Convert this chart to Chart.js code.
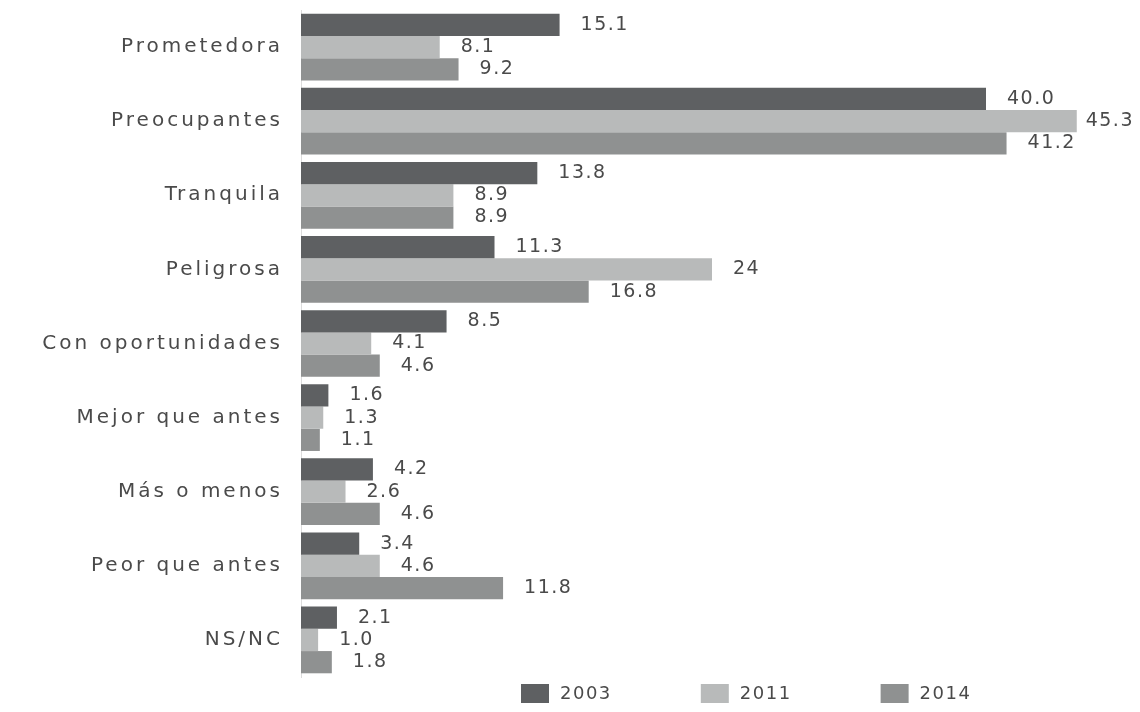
<!DOCTYPE html>
<html>
<head>
<meta charset="utf-8">
<script src="https://cdn.jsdelivr.net/npm/chart.js@4.4.1/dist/chart.umd.min.js"></script>
<style>
  html, body { margin: 0; padding: 0; background: #fff; }
  #wrap { width: 1140px; height: 712px; position: relative; }
</style>
</head>
<body>
<div id="wrap"><canvas id="chart" width="1140" height="712"></canvas></div>
<script>
// Percentages per answer and survey year (texts kept as printed)
const categories = ['Prometedora', 'Preocupantes', 'Tranquila', 'Peligrosa', 'Con oportunidades',
                    'Mejor que antes', 'Más o menos', 'Peor que antes', 'NS/NC'];
const years = ['2003', '2011', '2014'];
const values2003 = ['15.1', '40.0', '13.8', '11.3', '8.5', '1.6', '4.2', '3.4', '2.1'];
const values2011 = ['8.1', '45.3', '8.9', '24', '4.1', '1.3', '2.6', '4.6', '1.0'];
const values2014 = ['9.2', '41.2', '8.9', '16.8', '4.6', '1.1', '4.6', '11.8', '1.8'];

const seriesTexts = [values2003, values2011, values2014];
const barColors = ['#5e6062', '#b8baba', '#8f9191'];
const FONT = '"DejaVu Sans", sans-serif';
const TEXT_COLOR = '#4a4a4a';

// Value labels at the end of each bar, pulled back if they would run off the canvas
const valueLabels = {
  id: 'valueLabels',
  afterDatasetsDraw(chart) {
    const ctx = chart.ctx;
    ctx.save();
    ctx.font = '19px ' + FONT;
    ctx.letterSpacing = '1.5px';
    ctx.fillStyle = TEXT_COLOR;
    ctx.textAlign = 'left';
    ctx.textBaseline = 'middle';
    chart.data.datasets.forEach((ds, di) => {
      chart.getDatasetMeta(di).data.forEach((bar, i) => {
        const txt = seriesTexts[di][i];
        const w = ctx.measureText(txt).width;
        const x = Math.min(bar.x + 21, chart.width - w - 6);
        ctx.fillText(txt, x, bar.y);
      });
    });
    ctx.restore();
  }
};

// Legend row under the plot
const legendRow = {
  id: 'legendRow',
  afterDraw(chart) {
    const ctx = chart.ctx;
    ctx.save();
    ctx.font = '18px ' + FONT;
    ctx.letterSpacing = '1.5px';
    ctx.textAlign = 'left';
    ctx.textBaseline = 'middle';
    let x = 521;
    const y = 684;
    chart.data.datasets.forEach(ds => {
      ctx.fillStyle = ds.backgroundColor;
      ctx.fillRect(x, y, 28, 19);
      ctx.fillStyle = TEXT_COLOR;
      ctx.fillText(ds.label, x + 39, y + 10);
      x += 39 + ctx.measureText(ds.label).width + 89;
    });
    ctx.restore();
  }
};

// Wider tracking for the category names
const tickSpacing = {
  id: 'tickSpacing',
  beforeDraw(chart) {
    chart.ctx.letterSpacing = '3px';
  }
};

new Chart(document.getElementById('chart'), {
  type: 'bar',
  data: {
    labels: categories,
    datasets: years.map((y, i) => ({
      label: y,
      data: seriesTexts[i].map(Number),
      backgroundColor: barColors[i],
      borderWidth: 0,
      categoryPercentage: 0.9,
      barPercentage: 1.0
    }))
  },
  options: {
    indexAxis: 'y',
    responsive: false,
    animation: false,
    devicePixelRatio: 1,
    layout: { padding: { top: 10, bottom: 35, left: 0, right: 17 } },
    plugins: {
      legend: { display: false },
      tooltip: { enabled: false }
    },
    scales: {
      x: { display: false, min: 0, max: 48 },
      y: {
        grid: { display: false, drawTicks: false },
        border: { display: true, color: '#dcdcdc', width: 1 },
        ticks: {
          color: TEXT_COLOR,
          font: { family: FONT, size: 20 },
          padding: 18
        },
        afterFit(scale) {
          scale.width = 301;
          scale.paddingTop = 0;
          scale.paddingBottom = 0;
        }
      }
    }
  },
  plugins: [tickSpacing, valueLabels, legendRow]
});
</script>
</body>
</html>
